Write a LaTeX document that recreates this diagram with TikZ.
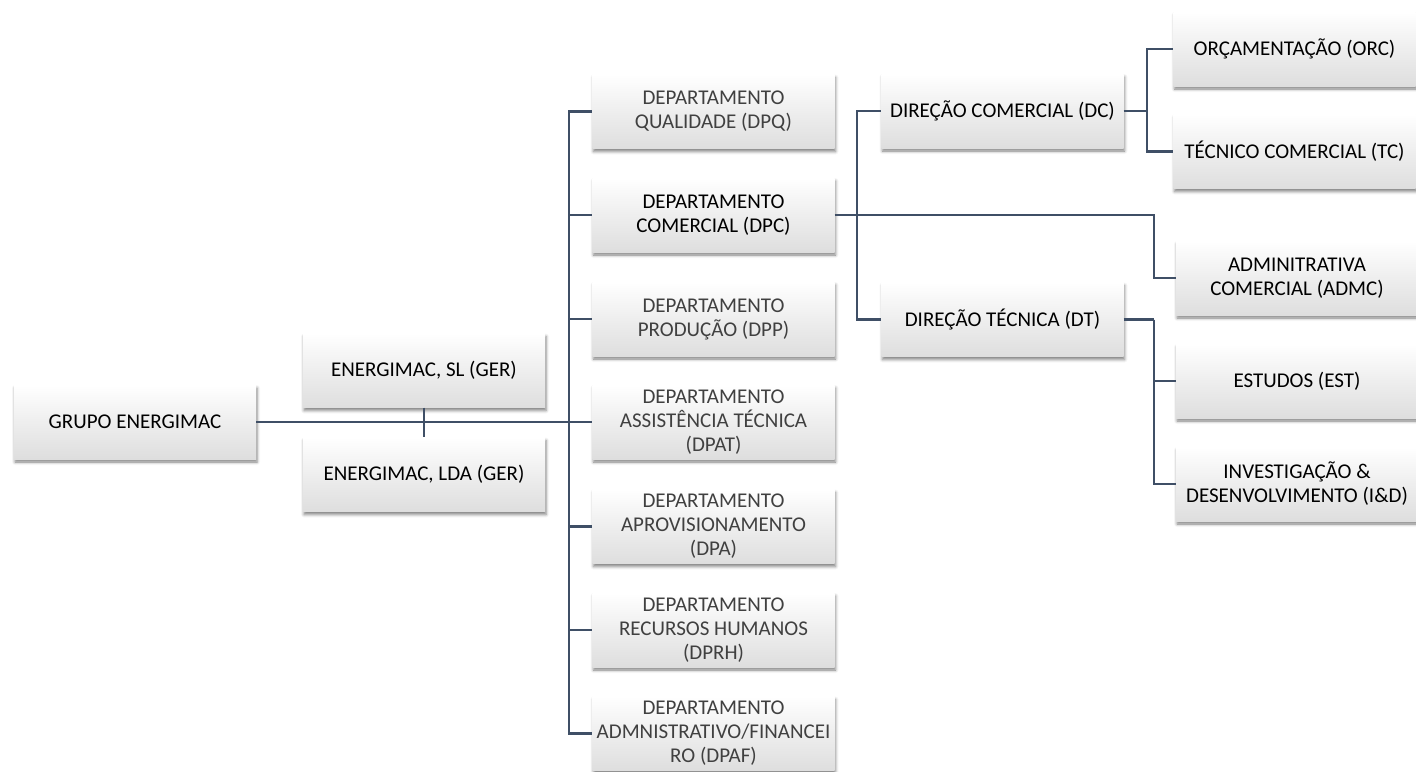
\documentclass[tikz,border=0pt]{standalone}
\usepackage{fontspec}
\setmainfont{Carlito}
\usepackage[HTML]{xcolor}
\usepackage{tikz}
\usetikzlibrary{positioning, shadows, shadows.blur}
\definecolor{linkcol}{HTML}{3F4F66}
\definecolor{lighttext}{HTML}{404040}

\begin{document}
\begin{tikzpicture}[x=1pt, y=-1pt,
  unit/.style={minimum width=242pt, minimum height=74pt, align=center, inner sep=2pt,
    top color=white, bottom color=gray!26, font=\fontsize{21}{24}\selectfont,
    blur shadow={shadow xshift=1pt, shadow yshift=-3pt, shadow blur radius=3pt, shadow opacity=50}},
  dept/.style={unit, text=lighttext},
  link/.style={draw=linkcol, line width=2.8pt}]
\useasboundingbox (0,0) rectangle (1416,771);

% nodes
\node[unit] (grupo) at (135,422) {GRUPO ENERGIMAC};
\node[unit] (sl) at (424,370.5) {ENERGIMAC, SL (GER)};
\node[unit] (lda) at (424,474.5) {ENERGIMAC, LDA (GER)};

\node[dept] (dpq) at (713.5,111.5) {DEPARTAMENTO\\QUALIDADE (DPQ)};
\node[unit] (dpc) at (713.5,215) {DEPARTAMENTO\\COMERCIAL (DPC)};
\node[dept] (dpp) at (713.5,319) {DEPARTAMENTO\\PRODUÇÃO (DPP)};
\node[dept] (dpat) at (713.5,422) {DEPARTAMENTO\\ASSISTÊNCIA TÉCNICA\\(DPAT)};
\node[dept] (dpa) at (713.5,526.5) {DEPARTAMENTO\\APROVISIONAMENTO\\(DPA)};
\node[dept] (dprh) at (713.5,630) {DEPARTAMENTO\\RECURSOS HUMANOS\\(DPRH)};
\node[dept] (dpaf) at (713.5,733.5) {DEPARTAMENTO\\ADMNISTRATIVO/FINANCEI\\RO (DPAF)};

\node[unit] (dc) at (1002.5,111) {DIREÇÃO COMERCIAL (DC)};
\node[unit] (dt) at (1002.5,319.5) {DIREÇÃO TÉCNICA (DT)};

\node[unit] (orc) at (1294.5,49) {ORÇAMENTAÇÃO (ORC)};
\node[unit] (tc) at (1294.5,151.5) {TÉCNICO COMERCIAL (TC)};
\node[unit] (admc) at (1297,278) {ADMINITRATIVA\\COMERCIAL (ADMC)};
\node[unit] (est) at (1297,381) {ESTUDOS (EST)};
\node[unit] (id) at (1297,484) {INVESTIGAÇÃO \&\\DESENVOLVIMENTO (I\&D)};

% bends
\coordinate (spine) at (569,422);
\coordinate (dpcbus) at (857,215);
\coordinate (admcturn) at (1154,215);
\coordinate (dcbus) at (1147,111);
\coordinate (dtbus) at (1154,319.5);

% edges
\draw[link] (grupo.east) -- (dpat.west);
\draw[link] (sl.south) -- (lda.north);
\foreach \d in {dpq,dpc,dpp,dpa,dprh,dpaf}{\draw[link] (spine) |- (\d.west);}

\draw[link] (dpc.east) -- (admcturn) |- (admc.west);
\draw[link] (dpcbus) |- (dc.west);
\draw[link] (dpcbus) |- (dt.west);

\draw[link] (dc.east) -- (dcbus);
\foreach \d in {orc,tc}{\draw[link] (dcbus) |- (\d.west);}
\draw[link] (dt.east) -- (dtbus);
\foreach \d in {est,id}{\draw[link] (dtbus) |- (\d.west);}
\end{tikzpicture}
\end{document}
